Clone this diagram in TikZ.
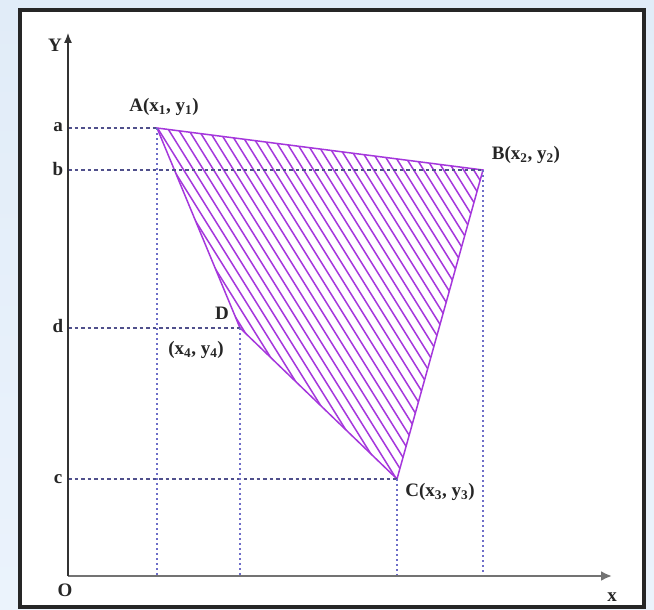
\documentclass[tikz,border=0pt]{standalone}
\usepackage{fontspec}
\setmainfont{Liberation Serif}
\usetikzlibrary{arrows.meta}
\begin{document}
\begin{tikzpicture}[x=1pt,y=-1pt,
  lbl/.style={font=\bfseries\fontsize{19}{21}\selectfont, inner sep=1pt, text=black!85},
  hdash/.style={draw={rgb,255:red,80;green,80;blue,140}, line width=1.3pt, dash pattern=on 3.5pt off 3pt},
  vdot/.style={draw={rgb,255:red,110;green,110;blue,200}, line width=1.3pt, dash pattern=on 2pt off 3pt},
  hatch/.style={draw={rgb,255:red,165;green,55;blue,220}, line width=1.5pt},
  axis/.style={draw=black!55, line width=2.5pt}]
\useasboundingbox (0,0) rectangle (654,610);
\shade[top color={rgb,255:red,225;green,236;blue,248}, bottom color={rgb,255:red,235;green,243;blue,252}] (0,0) rectangle (654,610);
\fill[white] (20,10) rectangle (644,607);
\draw[line width=3.5pt, black!85] (20,10) rectangle (644,607);

\coordinate (O) at (68,576);
\coordinate (A) at (157,128);
\coordinate (B) at (483,170);
\coordinate (C) at (397,479);
\coordinate (D) at (240,328);
\coordinate (Ya) at (68,128);
\coordinate (Yb) at (68,170);
\coordinate (Yd) at (68,328);
\coordinate (Yc) at (68,479);
\coordinate (XA) at (157,576);
\coordinate (XD) at (240,576);
\coordinate (XC) at (397,576);
\coordinate (XB) at (483,576);
\coordinate (Xend) at (612,576);
\coordinate (Yend) at (68,33);

% hatching
\begin{scope}
\clip (A) -- (B) -- (C) -- (D) -- cycle;
\foreach \s in {-200,-190,...,520} {
  \draw[hatch] (\s,100) -- (\s+312,600);
}
\end{scope}
\draw[hatch] (A) -- (B) -- (C) -- (D) -- cycle;

% guides
\draw[hdash] (Ya) -- (A);
\draw[hdash] (Yb) -- (B);
\draw[hdash] (Yd) -- (D);
\draw[hdash] (Yc) -- (C);
\draw[vdot] (A) -- (XA);
\draw[vdot] (D) -- (XD);
\draw[vdot] (C) -- (XC);
\draw[vdot] (B) -- (XB);

% axes
\draw[axis, -{Latex[length=11pt,width=10pt]}] (O) -- (Xend);
\draw[draw=black!80, line width=1.2pt, -{Latex[length=10pt,width=8pt]}] (O) -- (Yend);

% labels
\node[lbl] (ly) at (55,45) {Y};
\node[lbl] (lx) at (612,597) {x};
\node[lbl] (lO) at (65,590) {O};
\node[lbl] (la) at (58,127) {a};
\node[lbl] (lb) at (58,169) {b};
\node[lbl] (ld) at (58,326) {d};
\node[lbl] (lc) at (58,479) {c};
\node[lbl] (lA) at (164,107) {A(x\textsubscript{1}, y\textsubscript{1})};
\node[lbl] (lB) at (526,155) {B(x\textsubscript{2}, y\textsubscript{2})};
\node[lbl] (lD) at (222,313) {D};
\node[lbl] (lD2) at (196,350) {(x\textsubscript{4}, y\textsubscript{4})};
\node[lbl] (lC) at (440,492) {C(x\textsubscript{3}, y\textsubscript{3})};
\end{tikzpicture}
\end{document}
